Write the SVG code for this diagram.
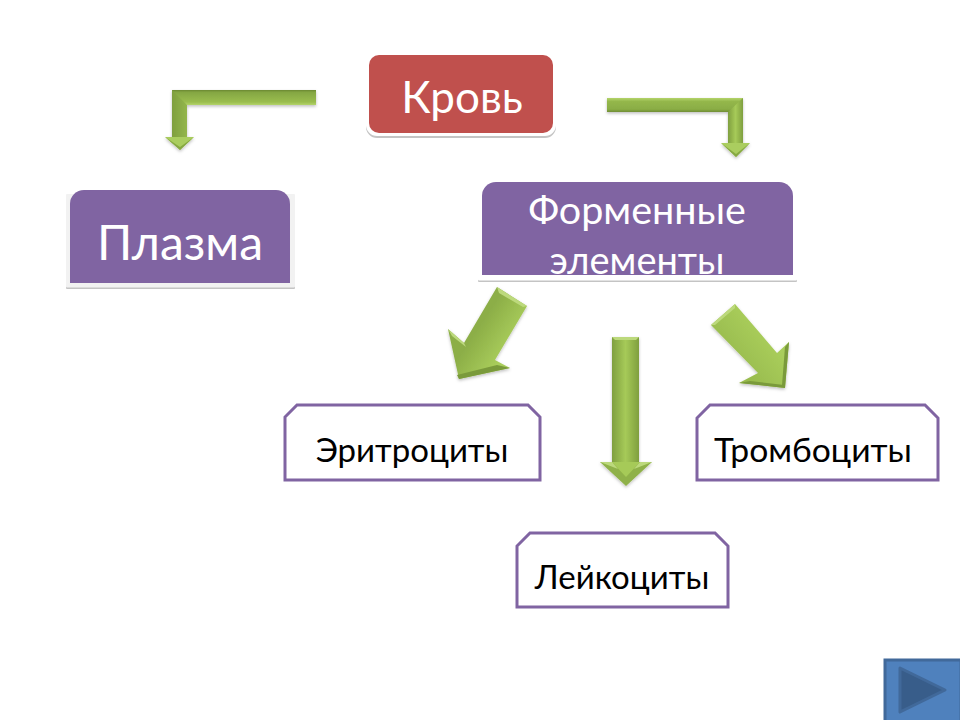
<svg xmlns="http://www.w3.org/2000/svg" width="960" height="720" viewBox="0 0 960 720">
<defs>
<linearGradient id="barL" x1="0" y1="0" x2="0" y2="1"><stop offset="0" stop-color="#6a8832"/><stop offset="0.15" stop-color="#84a642"/><stop offset="0.8" stop-color="#9abd4f"/><stop offset="1" stop-color="#b4d46a"/></linearGradient>
<linearGradient id="barR" x1="0" y1="0" x2="0" y2="1"><stop offset="0" stop-color="#b4d46a"/><stop offset="0.25" stop-color="#94b74b"/><stop offset="0.8" stop-color="#8aad45"/><stop offset="1" stop-color="#6f8d35"/></linearGradient>
<linearGradient id="gh" x1="0" y1="0" x2="1" y2="0"><stop offset="0" stop-color="#7f9f3f"/><stop offset="0.5" stop-color="#a6ca58"/><stop offset="1" stop-color="#7f9f3f"/></linearGradient>
<linearGradient id="gv" x1="0" y1="0" x2="1" y2="0"><stop offset="0" stop-color="#7f9f3f"/><stop offset="1" stop-color="#93b64b"/></linearGradient>
<linearGradient id="gd1" gradientUnits="userSpaceOnUse" x1="480" y1="325" x2="510" y2="345"><stop offset="0" stop-color="#8cae47"/><stop offset="1" stop-color="#a9cd5b"/></linearGradient>
<linearGradient id="gd2" gradientUnits="userSpaceOnUse" x1="722" y1="350" x2="755" y2="322"><stop offset="0" stop-color="#98bb4d"/><stop offset="1" stop-color="#a9cd5b"/></linearGradient>
<filter id="sh" x="-15%" y="-15%" width="130%" height="130%"><feDropShadow dx="0" dy="1.5" stdDeviation="1.5" flood-color="#000" flood-opacity="0.25"/></filter>
</defs>
<style>
text{font-family:"Lato","Noto Sans","Liberation Sans",sans-serif;text-anchor:middle}
.w{fill:#fff}.k{fill:#000}
.box{fill:#fff;stroke:#8064a2;stroke-width:3}
.pur{fill:#8064a2}
.rim{fill:#c4c4c4}
.plate{fill:#fff}
.lite{fill:#bcd97c}
.dark{fill:#7a9a3a}
</style>
<rect width="960" height="720" fill="#fff"/>
<g id="connectors">
<g id="arrow-left" filter="url(#sh)">
<rect x="172" y="90" width="144" height="15" fill="url(#barL)"/>
<path d="M172 90L187 105V137H172Z" fill="url(#gv)"/>
<path d="M165 137H194L180 150Z" fill="#aacd5e"/>
<path d="M165 137L180 150L194 137L180 147Z" fill="#86a843"/>
</g>
<g id="arrow-right" filter="url(#sh)">
<rect x="607" y="98" width="136" height="14" fill="url(#barR)"/>
<path d="M743 98L728 112V143H743Z" fill="url(#gh)"/>
<path d="M721 143H750L736 157Z" fill="#aacd5e"/>
<path d="M721 143L736 157L750 143L736 154Z" fill="#86a843"/>
</g>
<g id="arrow-diag-left" filter="url(#sh)">
<path d="M497 287L527 306L495 360L510 368L459 379L448 329L464 343Z" fill="url(#gd1)"/>
<path d="M497 287L527 306L523 307L499 293Z" class="lite"/>
<path d="M448 329L464 343L466 347L452 336Z" class="lite"/>
<path d="M510 368L459 379L457 375L497 365Z" class="dark"/>
</g>
<g id="arrow-down" filter="url(#sh)">
<path d="M612 337H639V462H612Z" fill="url(#gh)"/>
<path d="M612 337H639L636 340H615Z" class="lite"/>
<path d="M600 462H652L626 486Z" fill="#8fb149"/>
<path d="M612 462L626 477L640 462Z" fill="#a6ca58"/>
<path d="M600 462H612L618 469Z" class="lite"/>
<path d="M652 462H640L634 469Z" class="lite"/>
</g>
<g id="arrow-diag-right" filter="url(#sh)">
<path d="M735 304L711 325L758 373L739 383L785 388L789 342L777 353Z" fill="url(#gd2)"/>
<path d="M735 304L711 325L715 325L735 308Z" class="lite"/>
<path d="M739 383L785 388L784 385L750 381Z" class="dark"/>
<path d="M789 342L785 388L782 385L785 347Z" class="dark"/>
</g>
</g>
<g id="node-krov">
<rect class="rim" x="366" y="62" width="190" height="76" rx="11"/>
<rect class="plate" x="366" y="58" width="190" height="78" rx="11"/>
<rect x="369" y="55" width="184" height="78" rx="10" fill="#c0504d"/>
<text class="w" x="462" y="113" font-size="44">Кровь</text>
</g>
<g id="node-plazma">
<rect class="rim" x="66" y="270" width="229" height="19" rx="1"/>
<rect x="66" y="194" width="229" height="93.500" rx="1" fill="#f2f2f2"/>
<path d="M84 190H276A14 14 0 0 1 290 204V283H70V204A14 14 0 0 1 84 190Z" class="pur"/>
<text class="w" x="180" y="260" font-size="48">Плазма</text>
</g>
<g id="node-formennye">
<rect class="rim" x="478" y="270" width="319" height="12" rx="1"/>
<rect class="plate" x="478" y="190" width="319" height="90.500" rx="1"/>
<path d="M496 182H779A14 14 0 0 1 793 196V275H482V196A14 14 0 0 1 496 182Z" class="pur"/>
<text class="w" x="637" y="224" font-size="39.500">Форменные</text>
<text class="w" x="637" y="274" font-size="38">элементы</text>
</g>
<g id="node-eritrocity">
<path class="box" d="M297 405H528L540 417V480H285V417Z"/>
<text class="k" x="412" y="462" font-size="33">Эритроциты</text>
</g>
<g id="node-trombocity">
<path class="box" d="M710 405H925L938 418V480H697V418Z"/>
<text class="k" x="813" y="462" font-size="33.700">Тромбоциты</text>
</g>
<g id="node-leikocity">
<path class="box" d="M530 533H715L728 546V607H517V546Z"/>
<text class="k" x="622" y="589" font-size="33">Лейкоциты</text>
</g>
<g id="nav-button">
<rect x="885" y="660" width="76" height="62" fill="#4f81bd" stroke="#41699a" stroke-width="3"/>
<path d="M900 668L945 690L900 712Z" fill="#385d8a" stroke="#41699a" stroke-width="3" stroke-linejoin="round"/>
</g>
</svg>
